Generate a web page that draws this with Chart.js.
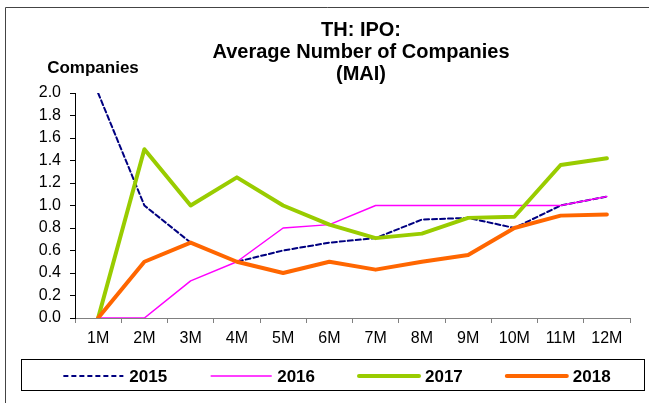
<!DOCTYPE html>
<html>
<head>
<meta charset="utf-8">
<script src="https://cdn.jsdelivr.net/npm/chart.js@4.4.1/dist/chart.umd.min.js"></script>
<style>
    html, body { margin: 0; padding: 0; background: #fff; }
    #wrap { width: 649px; height: 403px; }
</style>
</head>
<body>
<div id="wrap"><canvas id="ipoChart" width="649" height="403"></canvas></div>
<script>
// TH: IPO - average number of companies (MAI), by month of year
const months = ['1M', '2M', '3M', '4M', '5M', '6M', '7M', '8M', '9M', '10M', '11M', '12M'];
const years = ['2015', '2016', '2017', '2018'];
const values2015 = [2.0, 1.0, 0.67, 0.5, 0.6, 0.67, 0.71, 0.875, 0.89, 0.8, 1.0, 1.08];
const values2016 = [0, 0, 0.33, 0.5, 0.8, 0.83, 1.0, 1.0, 1.0, 1.0, 1.0, 1.08];
const values2017 = [0, 1.5, 1.0, 1.25, 1.0, 0.83, 0.71, 0.75, 0.89, 0.9, 1.36, 1.42];
const values2018 = [0, 0.5, 0.67, 0.5, 0.4, 0.5, 0.43, 0.5, 0.56, 0.8, 0.91, 0.92];
const titleLines = ['TH: IPO:', 'Average Number of Companies', '(MAI)'];
const yAxisTitle = 'Companies';

const FONT = '"Liberation Sans", Arial, sans-serif';

// frame, title block and boxed legend (Excel style)
const decorations = {
    id: 'decorations',
    beforeDraw(chart) {
        const ctx = chart.ctx;
        ctx.save();
        ctx.fillStyle = '#fff';
        ctx.fillRect(0, 0, chart.width, chart.height);
        ctx.strokeStyle = '#444';
        ctx.lineWidth = 1;
        ctx.beginPath();
        ctx.moveTo(5.5, chart.height);
        ctx.lineTo(5.5, 7.5);
        ctx.lineTo(chart.width, 7.5);
        ctx.stroke();
        ctx.restore();
    },
    afterDraw(chart) {
        const ctx = chart.ctx;
        ctx.save();
        ctx.fillStyle = '#000';
        ctx.textAlign = 'center';
        ctx.textBaseline = 'middle';
        ctx.font = 'bold 20px ' + FONT;
        titleLines.forEach((line, i) => ctx.fillText(line, 361, 30 + i * 22));

        ctx.font = 'bold 17px ' + FONT;
        ctx.fillText(yAxisTitle, 93, 68);

        // legend box
        ctx.strokeStyle = '#000';
        ctx.lineWidth = 1;
        ctx.strokeRect(21.5, 359.5, 623, 31);

        ctx.font = 'bold 17px ' + FONT;
        ctx.textAlign = 'left';
        const lineLen = 60, gap = 6, spacing = 44;
        const sets = chart.data.datasets;
        const widths = sets.map(ds => lineLen + gap + ctx.measureText(ds.label).width);
        const total = widths.reduce((a, b) => a + b, 0) + spacing * (sets.length - 1);
        let x = 337 - total / 2;
        const y = 376;
        sets.forEach((ds, i) => {
            ctx.strokeStyle = ds.borderColor;
            ctx.lineWidth = ds.borderWidth;
            ctx.setLineDash(ds.borderDash || []);
            ctx.lineCap = ds.borderDash ? 'butt' : 'round';
            ctx.beginPath();
            ctx.moveTo(x, y);
            ctx.lineTo(x + lineLen, y);
            ctx.stroke();
            ctx.setLineDash([]);
            ctx.fillStyle = '#000';
            ctx.fillText(ds.label, x + lineLen + gap, y + 1);
            x += widths[i] + spacing;
        });
        ctx.restore();
    }
};

function buildChart() {
    const ctx = document.getElementById('ipoChart').getContext('2d');
    return new Chart(ctx, {
        type: 'line',
        data: {
            labels: months,
            datasets: [
                { label: years[0], data: values2015, borderColor: '#000080', borderWidth: 2, borderDash: [5, 3], order: 4 },
                { label: years[1], data: values2016, borderColor: '#FF00FF', borderWidth: 1.5, order: 3 },
                { label: years[2], data: values2017, borderColor: '#99CC00', borderWidth: 4, order: 2 },
                { label: years[3], data: values2018, borderColor: '#FF6600', borderWidth: 4, order: 1 }
            ]
        },
        options: {
            responsive: false,
            animation: false,
            devicePixelRatio: 1,
            layout: { padding: { left: 5, right: 19, top: 93, bottom: 53 } },
            elements: {
                point: { radius: 0, hoverRadius: 0 },
                line: { tension: 0, fill: false, borderJoinStyle: 'round', borderCapStyle: 'round' }
            },
            plugins: {
                legend: { display: false },
                title: { display: false },
                tooltip: { enabled: false }
            },
            scales: {
                x: {
                    offset: true,
                    grid: { offset: true, drawOnChartArea: false, drawTicks: true, tickLength: 5, color: '#808080' },
                    border: { display: true, color: '#808080', width: 1 },
                    ticks: { color: '#000', font: { family: FONT, size: 16 }, padding: 6, maxRotation: 0, autoSkip: false },
                    afterFit(scale) { scale.height = 32; }
                },
                y: {
                    min: 0,
                    max: 2,
                    grid: { drawOnChartArea: false, drawTicks: true, tickLength: 5, color: '#000' },
                    border: { display: true, color: '#000', width: 1 },
                    ticks: {
                        stepSize: 0.2,
                        color: '#000',
                        font: { family: FONT, size: 16 },
                        padding: 9,
                        callback: v => v.toFixed(1)
                    },
                    afterFit(scale) { scale.width = 70; }
                }
            }
        },
        plugins: [decorations]
    });
}

document.addEventListener('DOMContentLoaded', () => {
    window.ipoChart = buildChart();
});
</script>
</body>
</html>
